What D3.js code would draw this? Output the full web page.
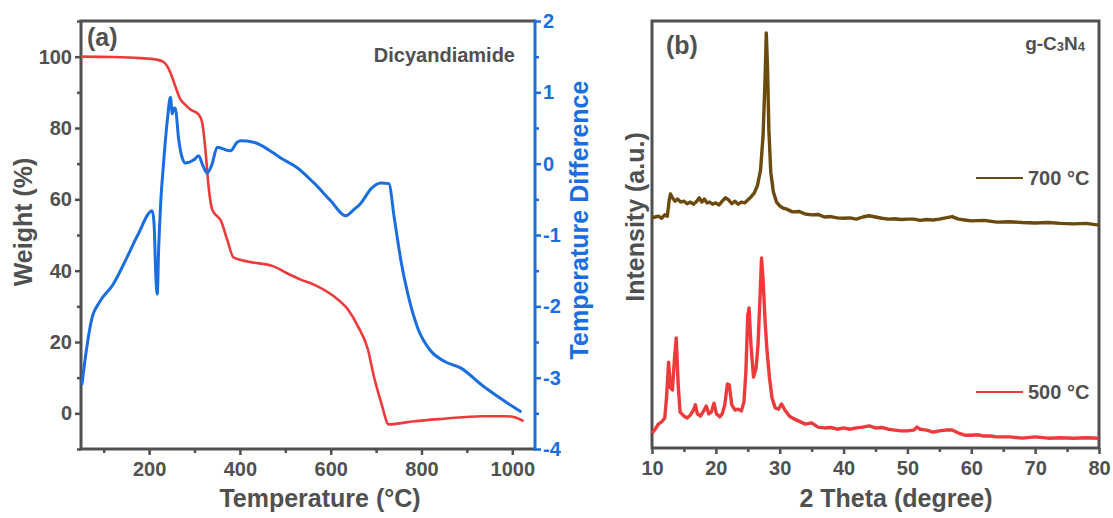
<!DOCTYPE html>
<html>
<head>
<meta charset="utf-8">
<script src="https://cdn.jsdelivr.net/npm/d3@7"></script>
<style>
  body { margin: 0; background: #fff; }
  svg { font-family: "Liberation Sans", Arial, sans-serif; font-weight: bold; }
</style>
</head>
<body>
<svg id="chart" width="1113" height="518"></svg>
<script>
// panel (a): TGA weight (%) and DTA temperature difference vs temperature (°C)
var tgaWeight = [[50,100],[120,99.9],[180,99.6],[215,99.2],[232,98.5],[240,97.3],[247,95.5],[258,91.6],[269,88],
  [280,86.5],[291,85.2],[309,83.8],[317,81.5],[324,74],[331,63.6],[339,57.1],[348,55.5],[357,54.3],[372,48.7],
  [386,43.7],[420,42.5],[474,41.2],[505,39.2],[534,37.5],[563,36.1],[607,32.8],[638,29.1],[660,24.4],[682,17.9],
  [695,10.4],[711,3.1],[728,-3.1],[784,-2.2],[850,-1.5],[932,-0.8],[985,-0.8],[1005,-1.1],[1025,-2.2]];

var dtaDiff = [[52,-3.1],[60,-2.7],[74,-2.17],[92,-1.93],[121,-1.69],[147,-1.37],[175,-1.0],[207,-0.66],
  [211,-0.85],[215,-1.6],[218,-1.83],[221,-1.2],[226,-0.5],[231,-0.06],[240,0.6],[247,0.93],[251,0.70],
  [255,0.78],[258,0.77],[265,0.35],[273,0.08],[280,0.01],[298,0.05],[309,0.11],[318,-0.02],[328,-0.13],
  [338,-0.02],[350,0.23],[379,0.18],[394,0.30],[401,0.32],[430,0.30],[474,0.15],[490,0.08],[527,-0.06],
  [563,-0.27],[600,-0.52],[633,-0.73],[650,-0.65],[667,-0.55],[689,-0.35],[711,-0.27],[728,-0.28],
  [740,-0.76],[755,-1.37],[770,-1.83],[792,-2.31],[821,-2.63],[850,-2.77],[888,-2.87],[932,-3.10],
  [976,-3.30],[1020,-3.48]];

var tempTicks = [200, 400, 600, 800, 1000];
var weightTicks = [0, 20, 40, 60, 80, 100];
var diffTicks = [-4, -3, -2, -1, 0, 1, 2];

// panel (b): XRD patterns, intensity in a.u. vs 2 theta
var xrd700 = [[10,53.9],[10.5,54.1],[11,54.3],[11.5,53.8],[12,54.6],[12.4,54.3],[12.7,58.1],[12.9,59.5],
  [13.2,58.6],[13.6,57.8],[14,58.3],[14.5,57.6],[15,57.8],[15.5,57.2],[16,57.6],[16.5,57.1],[17,57.8],
  [17.4,58.6],[17.8,57.6],[18.2,58.3],[18.6,57.4],[19,57.6],[19.5,57.1],[20,57.4],[20.5,56.9],[21,57.8],
  [21.5,58.6],[22,58.1],[22.5,57.2],[23,57.8],[23.5,57.1],[24,57.6],[24.5,57.4],[25,58.1],[25.5,58.8],
  [26,59.7],[26.5,61.4],[27,65.1],[27.4,73.3],[27.7,86.2],[27.9,97.2],[28.1,88.5],[28.3,74.5],[28.6,64.6],
  [29,60],[29.5,57.6],[30,56.7],[30.5,56.2],[31,56],[32,55.3],[33,55.4],[34,54.8],[35,54.6],[36,54.7],
  [37,54.1],[38,54.2],[39,53.9],[40,53.8],[41,53.9],[42,53.6],[43,54.1],[44,54.4],[45,54.1],[46,53.8],
  [47,53.6],[48,53.7],[49,53.5],[50,53.6],[51,53.6],[52,53.3],[53,53.5],[54,53.4],[55,53.6],[56,53.9],
  [57,54.2],[58,53.6],[59,53.4],[60,53.2],[62,53.3],[64,52.9],[66,53.0],[68,52.8],[70,52.7],[72,52.8],
  [74,52.6],[76,52.5],[78,52.6],[80,52.2]];

var xrd500 = [[10,3.5],[10.5,4.4],[11,5.6],[11.5,6.1],[12,7],[12.3,12.4],[12.6,20.1],[12.9,14.1],[13.2,13.6],
  [13.5,20.6],[13.8,25.8],[14.1,14.8],[14.4,8.4],[15,7.5],[15.5,7],[16,7.7],[16.5,8.9],[16.8,10.1],[17.1,8],
  [17.6,7.5],[18.1,8.7],[18.5,9.8],[18.9,8],[19.3,8.4],[19.7,10.5],[20.1,8],[20.6,7.3],[21,8],[21.4,10.1],
  [21.8,15],[22.1,14.8],[22.5,10.1],[23,8.9],[23.5,9.1],[24,8.7],[24.4,10.8],[24.7,17.8],[25,31.1],
  [25.2,32.8],[25.5,24.1],[25.9,16.6],[26.3,18.7],[26.6,24.1],[26.9,34.7],[27.15,44.5],[27.4,39.3],
  [27.7,30],[28,23],[28.4,16.4],[28.8,11.7],[29.3,9.4],[29.8,9.1],[30.3,10.3],[30.8,8.9],[31.5,7.5],
  [32,7],[33,6.3],[34,5.6],[35,5.9],[36,4.9],[37,4.7],[38,4.8],[39,4.4],[40,4.7],[41,4.4],[42,4.7],
  [43,4.9],[44,5.2],[45,4.7],[46,4.8],[47,4.4],[48,4.2],[49,4],[50,4],[51,4.2],[51.5,4.9],[52,4.4],
  [53,4.2],[54,3.7],[55,4],[56,4.2],[57,4.2],[58,3.5],[59,3],[60,3],[61,3.1],[62,2.8],[63,2.8],[64,2.6],
  [66,2.6],[68,2.3],[70,2.6],[72,2.3],[74,2.4],[76,2.3],[78,2.4],[80,2.3]];

var thetaTicks = [10, 20, 30, 40, 50, 60, 70, 80];

var gray = "#505050", red = "#ef3a3c", blue = "#1a6ee0", brown = "#6b4a0e";

var svg = d3.select("#chart");

function styleAxis(g, color) {
  g.selectAll("path").remove();
  g.selectAll("line").attr("stroke", color).attr("stroke-width", 2.5);
  g.selectAll("text").attr("fill", color).style("font-size", "20px").style("font-family", "Liberation Sans, Arial, sans-serif");
}

// ---------- panel (a) ----------
var ax = { left: 81, right: 535, top: 21, bottom: 449 };

var xA = d3.scaleLinear().domain([50, 1050]).range([ax.left, ax.right]);
var yW = d3.scaleLinear().domain([-10, 110]).range([ax.bottom, ax.top]);
var yD = d3.scaleLinear().domain([-4, 2]).range([ax.bottom, ax.top]);

// minor ticks first
svg.append("g").attr("transform", "translate(0," + ax.bottom + ")")
  .call(d3.axisBottom(xA).tickValues([100, 300, 500, 700, 900]).tickSize(4).tickFormat(""))
  .call(styleAxis, gray);
svg.append("g").attr("transform", "translate(" + ax.left + ",0)")
  .call(d3.axisLeft(yW).tickValues([-10, 10, 30, 50, 70, 90, 110]).tickSize(4).tickFormat(""))
  .call(styleAxis, gray);
svg.append("g").attr("transform", "translate(" + ax.right + ",0)")
  .call(d3.axisRight(yD).tickValues([-3.5, -2.5, -1.5, -0.5, 0.5, 1.5]).tickSize(4).tickFormat(""))
  .call(styleAxis, blue);

svg.append("g").attr("transform", "translate(0," + ax.bottom + ")")
  .call(d3.axisBottom(xA).tickValues(tempTicks).tickSize(6).tickPadding(7).tickFormat(d3.format("d")))
  .call(styleAxis, gray);
svg.append("g").attr("transform", "translate(" + ax.left + ",0)")
  .call(d3.axisLeft(yW).tickValues(weightTicks).tickSize(6).tickPadding(3))
  .call(styleAxis, gray);
svg.append("g").attr("transform", "translate(" + ax.right + ",0)")
  .call(d3.axisRight(yD).tickValues(diffTicks).tickSize(6).tickPadding(2).tickFormat(d3.format("d")))
  .call(styleAxis, blue)
  .selectAll("text").text(function(d) { return d < 0 ? "-" + Math.abs(d) : d; });

// frame
svg.append("path")
  .attr("d", "M" + ax.right + "," + ax.top + "H" + ax.left + "V" + ax.bottom + "H" + ax.right)
  .attr("fill", "none").attr("stroke", gray).attr("stroke-width", 3);
svg.append("line")
  .attr("x1", ax.right).attr("x2", ax.right).attr("y1", ax.top - 1.5).attr("y2", ax.bottom + 1.5)
  .attr("stroke", blue).attr("stroke-width", 3);

var lineW = d3.line().x(d => xA(d[0])).y(d => yW(d[1])).curve(d3.curveMonotoneX);
var lineD = d3.line().x(d => xA(d[0])).y(d => yD(d[1])).curve(d3.curveMonotoneX);

svg.append("path").datum(tgaWeight).attr("d", lineW)
  .attr("fill", "none").attr("stroke", red).attr("stroke-width", 2.6);
svg.append("path").datum(dtaDiff).attr("d", lineD)
  .attr("fill", "none").attr("stroke", blue).attr("stroke-width", 3);

svg.append("text").attr("x", 87).attr("y", 46).attr("fill", gray)
  .style("font-size", "25px").text("(a)");
svg.append("text").attr("x", 515).attr("y", 62).attr("text-anchor", "end").attr("fill", gray)
  .style("font-size", "20px").text("Dicyandiamide");

svg.append("text").attr("x", 320).attr("y", 507).attr("text-anchor", "middle").attr("fill", gray)
  .style("font-size", "25px").text("Temperature (°C)");
svg.append("text").attr("transform", "translate(32,222) rotate(-90)").attr("text-anchor", "middle")
  .attr("fill", gray).style("font-size", "25px").text("Weight (%)");
svg.append("text").attr("transform", "translate(588,220) rotate(-90)").attr("text-anchor", "middle")
  .attr("fill", blue).style("font-size", "25px").text("Temperature Difference");

// ---------- panel (b) ----------
var bx = { left: 652, right: 1099, top: 21, bottom: 448 };

var xB = d3.scaleLinear().domain([10, 80]).range([bx.left, bx.right]);
var yB = d3.scaleLinear().domain([0, 100]).range([bx.bottom, bx.top]);

svg.append("g").attr("transform", "translate(0," + bx.bottom + ")")
  .call(d3.axisBottom(xB).tickValues([15, 25, 35, 45, 55, 65, 75]).tickSize(4).tickFormat(""))
  .call(styleAxis, gray);
svg.append("g").attr("transform", "translate(0," + bx.bottom + ")")
  .call(d3.axisBottom(xB).tickValues(thetaTicks).tickSize(6).tickPadding(7))
  .call(styleAxis, gray);

svg.append("rect").attr("x", bx.left).attr("y", bx.top)
  .attr("width", bx.right - bx.left).attr("height", bx.bottom - bx.top)
  .attr("fill", "none").attr("stroke", gray).attr("stroke-width", 3);

var lineB = d3.line().x(d => xB(d[0])).y(d => yB(d[1]));

svg.append("path").datum(xrd700).attr("d", lineB)
  .attr("fill", "none").attr("stroke", brown).attr("stroke-width", 3.4).attr("stroke-linejoin", "round");
svg.append("path").datum(xrd500).attr("d", lineB)
  .attr("fill", "none").attr("stroke", red).attr("stroke-width", 3.4).attr("stroke-linejoin", "round");

svg.append("text").attr("x", 666).attr("y", 54).attr("fill", gray)
  .style("font-size", "25px").text("(b)");

var gcn = svg.append("text").attr("x", 1085).attr("y", 50).attr("text-anchor", "end")
  .attr("fill", gray).style("font-size", "19px");
gcn.append("tspan").text("g-C");
gcn.append("tspan").style("font-size", "13px").attr("dy", 1).text("3");
gcn.append("tspan").attr("dy", -1).text("N");
gcn.append("tspan").style("font-size", "13px").attr("dy", 1).text("4");

var legend = [
  { label: "700 °C", color: brown, y: 178 },
  { label: "500 °C", color: red, y: 392 }
];
legend.forEach(function(l) {
  svg.append("line").attr("x1", 976).attr("x2", 1023).attr("y1", l.y).attr("y2", l.y)
    .attr("stroke", l.color).attr("stroke-width", 2);
  svg.append("text").attr("x", 1028).attr("y", l.y + 7).attr("fill", gray)
    .style("font-size", "20px").text(l.label);
});

svg.append("text").attr("x", 896).attr("y", 507).attr("text-anchor", "middle").attr("fill", gray)
  .style("font-size", "25px").text("2 Theta (degree)");
svg.append("text").attr("transform", "translate(644,217) rotate(-90)").attr("text-anchor", "middle")
  .attr("fill", gray).style("font-size", "25px").text("Intensity (a.u.)");
</script>
</body>
</html>
